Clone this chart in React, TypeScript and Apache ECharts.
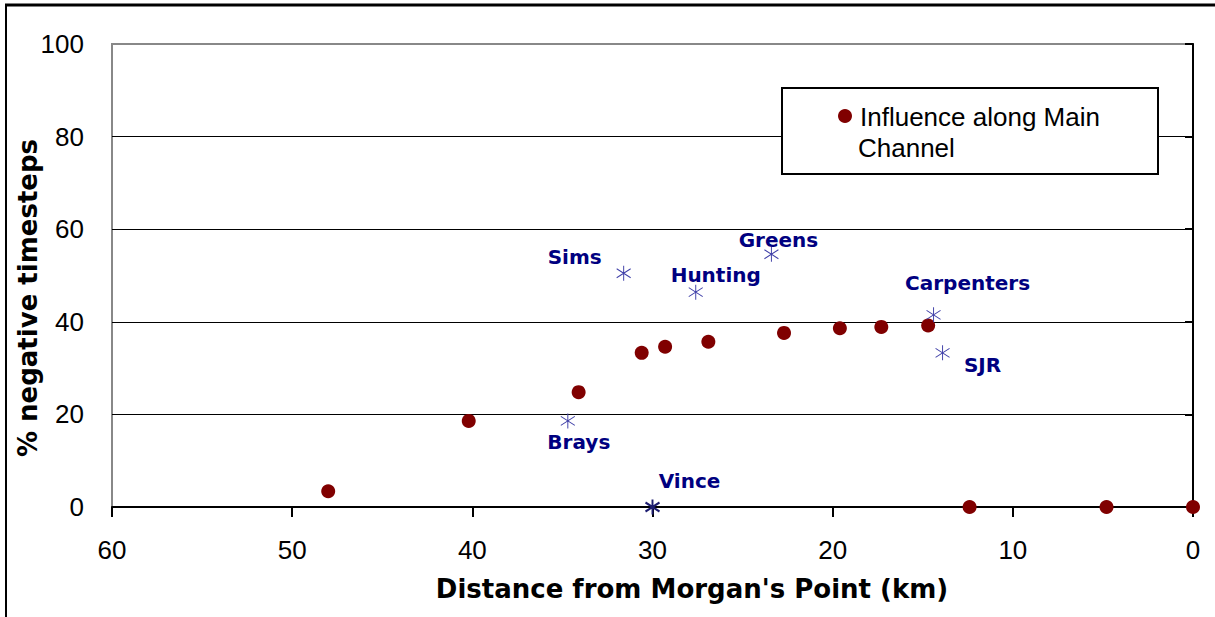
import React, { useEffect, useRef } from "react";
import * as echarts from "echarts";

// Main channel points: distance (km) and % negative timesteps
const mainDist = [48.0, 40.2, 34.1, 30.6, 29.3, 26.9, 22.7, 19.6, 17.3, 14.7, 12.4, 4.8, 0];
const mainPct = [3.4, 18.6, 24.8, 33.3, 34.6, 35.7, 37.6, 38.6, 38.9, 39.2, 0, 0, 0];

// Tributary stations
const stationNames = ["Sims", "Hunting", "Greens", "Brays", "Vince", "Carpenters", "SJR"];
const stationDist = [31.6, 27.6, 23.4, 34.7, 30.0, 14.4, 13.9];
const stationPct = [50.5, 46.4, 54.6, 18.6, 0, 41.5, 33.3];

const xTicks = [0, 10, 20, 30, 40, 50, 60];
const yTicks = [0, 20, 40, 60, 80, 100];

const legendLabel = ["Influence along Main", "Channel"];
const xTitle = "Distance from Morgan's Point (km)";
const yTitle = "% negative timesteps";

// label offsets (styling only)
const labelOffsets: number[][] = [
  [-49, -16],
  [20, -17],
  [7, -14],
  [11, 21],
  [37, -26],
  [34, -32],
  [40, 12],
];

const ASTERISK = "path://M7,0L7,15M0,3L14,12M0,12L14,3";

export default function App() {
  const ref = useRef<HTMLDivElement>(null);
  useEffect(() => {
    if (!ref.current) return;
    const chart = echarts.init(ref.current, undefined, { renderer: "svg" });
    const tickFont = { fontFamily: "Liberation Sans, Arial, sans-serif", fontSize: 26, color: "#000" };
    const option: any = {
      animation: false,
      backgroundColor: "#fff",
      grid: {
        left: 112,
        right: 22,
        top: 44,
        bottom: 110,
        show: true,
        borderColor: "#888",
        borderWidth: 2,
        backgroundColor: "transparent",
      },
      xAxis: {
        type: "value",
        min: xTicks[0],
        max: xTicks[xTicks.length - 1],
        interval: 10,
        inverse: true,
        axisLine: { show: true, onZero: false, lineStyle: { color: "#000", width: 2 } },
        axisTick: { show: true, length: 10, lineStyle: { color: "#000", width: 2 } },
        axisLabel: { ...tickFont, margin: 30 },
        splitLine: { show: false },
      },
      yAxis: {
        type: "value",
        min: yTicks[0],
        max: yTicks[yTicks.length - 1],
        interval: 20,
        axisLine: { show: true, lineStyle: { color: "#000", width: 2 } },
        axisTick: { show: true, length: 8, lineStyle: { color: "#000", width: 2 } },
        axisLabel: { ...tickFont, margin: 28 },
        splitLine: {
          show: true,
          lineStyle: { color: ["#000", "#000", "#000", "#000", "#000", "#888"], width: 1 },
        },
      },
      series: [
        {
          name: "Influence along Main Channel",
          type: "scatter",
          symbol: "circle",
          symbolSize: 14,
          itemStyle: { color: "#800000", opacity: 1 },
          data: mainDist.map((d, i) => [d, mainPct[i]]),
          z: 3,
        },
        {
          name: "Stations",
          type: "scatter",
          symbol: ASTERISK,
          symbolSize: [14, 15],
          itemStyle: { color: "transparent", borderColor: "#4040a8", borderWidth: 1, opacity: 1 },
          z: 4,
          data: stationNames.map((n, i) => ({
            name: n,
            value: [stationDist[i], stationPct[i]],
            itemStyle:
              n === "Vince"
                ? { color: "transparent", borderColor: "#1c1c70", borderWidth: 2, opacity: 1 }
                : undefined,
            label: {
              show: true,
              position: "inside",
              offset: labelOffsets[i],
              formatter: (p: any) => p.name,
              color: "#000080",
              opacity: 1,
              fontFamily: "DejaVu Sans, sans-serif",
              fontWeight: "bold",
              fontSize: 20,
            },
          })),
        },
      ],
      graphic: [
        // outer frame
        { type: "line", shape: { x1: 5, y1: 5, x2: 1215, y2: 5 }, style: { stroke: "#000", lineWidth: 3 } },
        { type: "line", shape: { x1: 6, y1: 4, x2: 6, y2: 617 }, style: { stroke: "#000", lineWidth: 2 } },
        // legend
        {
          type: "rect",
          shape: { x: 782, y: 88, width: 376, height: 86 },
          style: { fill: "#fff", stroke: "#000", lineWidth: 2 },
          z: 10,
        },
        {
          type: "circle",
          shape: { cx: 845, cy: 116, r: 7 },
          style: { fill: "#800000" },
          z: 11,
        },
        {
          type: "text",
          x: 860,
          y: 117,
          style: {
            text: legendLabel[0],
            fontFamily: "Liberation Sans, Arial, sans-serif",
            fontSize: 26,
            fill: "#000",
            verticalAlign: "middle",
            align: "left",
          },
          z: 11,
        },
        {
          type: "text",
          x: 858,
          y: 148,
          style: {
            text: legendLabel[1],
            fontFamily: "Liberation Sans, Arial, sans-serif",
            fontSize: 26,
            fill: "#000",
            verticalAlign: "middle",
            align: "left",
          },
          z: 11,
        },
        // axis titles
        {
          type: "text",
          x: 692,
          y: 589,
          style: {
            text: xTitle,
            fontFamily: "DejaVu Sans, sans-serif",
            fontWeight: "bold",
            fontSize: 26,
            fill: "#000",
            align: "center",
            verticalAlign: "middle",
          },
        },
        {
          type: "text",
          x: 28,
          y: 298,
          rotation: Math.PI / 2,
          style: {
            text: yTitle,
            fontFamily: "DejaVu Sans, sans-serif",
            fontWeight: "bold",
            fontSize: 26,
            fill: "#000",
            align: "center",
            verticalAlign: "middle",
          },
        },
      ],
    };
    chart.setOption(option);
    return () => chart.dispose();
  }, []);
  return (
    <div
      ref={ref}
      style={{ position: "fixed", left: 0, top: 0, width: 1215, height: 617, background: "#fff" }}
    />
  );
}
